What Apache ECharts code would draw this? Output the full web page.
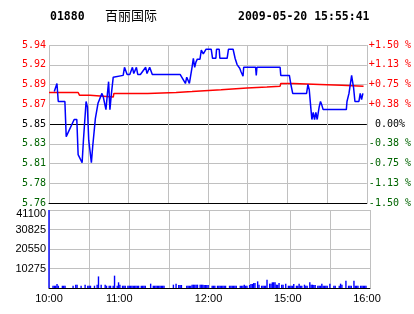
<!DOCTYPE html>
<html><head><meta charset="utf-8">
<script src="https://cdn.jsdelivr.net/npm/echarts@6/dist/echarts.min.js"></script>
<style>html,body{margin:0;padding:0;background:#fff}#c{width:414px;height:314px}</style>
</head><body><div id="c"></div>
<script>
const stockCode = '01880';
const stockName = '百丽国际';
const stamp = '2009-05-20 15:55:41';
const prevClose = 5.85;
const priceTickLabels = ['5.76','5.78','5.81','5.83','5.85','5.87','5.89','5.92','5.94'];
const pctTickLabels = ['-1.50 %','-1.13 %','-0.75 %','-0.38 %',' 0.00%','+0.38 %','+0.75 %','+1.13 %','+1.50 %'];
const timeTickLabels = ['10:00','','11:00','','12:00','','15:00','','16:00'];
const volTickLabels = ['','10275','20550','30825','41100'];

// [minute since 10:00 (trading minutes), price]
const priceData = [[4,5.886],[6,5.895],[7,5.875],[12,5.875],[13,5.836],[19,5.855],[21,5.855],[22,5.816],[25,5.807],[26,5.832],[28,5.875],[29,5.869],[30,5.832],[32,5.807],[33,5.825],[35,5.856],[37,5.873],[40,5.884],[41,5.880],[43,5.866],[44,5.882],[45,5.897],[46,5.866],[47,5.882],[48.5,5.902],[50,5.904],[56,5.904],[57,5.913],[59,5.905],[61,5.905],[63,5.913],[64,5.906],[66,5.913],[67,5.905],[69,5.905],[73,5.913],[74,5.906],[76,5.913],[78,5.905],[99,5.905],[101,5.900],[103,5.895],[104,5.902],[106,5.895],[107.5,5.895],[108,5.913],[109,5.923],[110,5.913],[111,5.919],[112,5.922],[114,5.922],[115,5.932],[116.5,5.928],[117.5,5.928],[118.5,5.933],[122.5,5.933],[123.5,5.923],[126,5.923],[126.5,5.933],[128.5,5.933],[129,5.923],[134.5,5.923],[135.5,5.933],[139,5.933],[140.5,5.923],[142,5.916],[144,5.912],[145,5.908],[146.5,5.903],[147,5.913],[156,5.913],[156.5,5.904],[157,5.913],[174.5,5.913],[175,5.904],[181.5,5.904],[182.5,5.895],[184,5.884],[194.5,5.884],[195.5,5.894],[196.5,5.888],[197.5,5.871],[198.5,5.855],[199.5,5.863],[200.5,5.855],[201.5,5.863],[202.5,5.855],[204,5.869],[205,5.875],[206,5.871],[207,5.866],[224.5,5.866],[225,5.875],[226.5,5.884],[227.5,5.894],[228.5,5.904],[229,5.899],[230,5.890],[231,5.875],[234,5.875],[235,5.884],[236,5.877],[237,5.884]];

// [minute, average price]
const avgData = [[0,5.885],[22,5.885],[23,5.882],[31,5.882],[31.5,5.880],[48.5,5.880],[49,5.884],[74.5,5.884],[75,5.885],[96,5.885],[96.5,5.886],[108,5.886],[108.5,5.888],[130,5.888],[130.5,5.890],[149.5,5.890],[150,5.891],[164.5,5.891],[165,5.892],[174.5,5.892],[175,5.895],[184.5,5.895],[185,5.894],[204.5,5.894],[205,5.893],[221,5.893],[221.5,5.892],[237.5,5.892]];

// [minute, volume]
const volumeData = [[0,41100],[3,1200],[4,1200],[5,1200],[6,2100],[7,1200],[10,1200],[11,1200],[12,1200],[18,1200],[20,1750],[21,1750],[24,1200],[27,1750],[29,1200],[30,1200],[31,1200],[34,1200],[36,1750],[37,6100],[39,1750],[42,1750],[43,1200],[45,1200],[46,1200],[48,1200],[49,6500],[51,1200],[52,3000],[53,1750],[55,1200],[56,1200],[57,1200],[59,1200],[60,1200],[61,1200],[62,1200],[63,1200],[64,1200],[65,1200],[66,1200],[67,1200],[69,1200],[70,1200],[71,1200],[72,1200],[76,2280],[78,1200],[79,1200],[80,1200],[81,1200],[82,1200],[83,1200],[84,1200],[85,1200],[86,1200],[93,1750],[95,2280],[97,1580],[98,1580],[99,1580],[103,1200],[104,1200],[105,1200],[106,1200],[107,1750],[108,1750],[109,1750],[110,1750],[111,1750],[113,1750],[114,1750],[115,1750],[116,1580],[117,1580],[118,1580],[119,1580],[122,1200],[123,1200],[124,1200],[126,1200],[127,1200],[128,1200],[129,1200],[130,1200],[131,1200],[132,1200],[135,1200],[136,1200],[137,1200],[138,1200],[139,1200],[140,1200],[143,1200],[144,1200],[145,1200],[146,1750],[147,1200],[148,1200],[150,1580],[151,2100],[152,2100],[153,2600],[154,2600],[156,3500],[157,1750],[159,1200],[160,1200],[161,1200],[162,1200],[163,4400],[165,2280],[166,2280],[167,3000],[168,3000],[169,3000],[170,1750],[171,1750],[172,2600],[174,1750],[175,1750],[177,2280],[179,1200],[180,1200],[181,1200],[182,1200],[183,2100],[185,1200],[186,1200],[187,2280],[188,1200],[189,1200],[191,1750],[192,1200],[193,1200],[195,3000],[196,1750],[197,1750],[198,1580],[199,1580],[201,1200],[202,1200],[203,1200],[204,2280],[205,1200],[206,1200],[207,1200],[208,1200],[210,2280],[213,1200],[214,1200],[217,1200],[218,2280],[219,1750],[222,3800],[224,1200],[225,1200],[226,1200],[228,3800],[229,1200],[230,1200],[231,1200],[233,1200],[234,1200],[235,1200],[236,1200],[237,1200]];

const pct = p => (p / prevClose - 1) * 100;
const tickIdx = v => Math.round((Number(v) + 1.5) / 0.375);
const upDownColor = v => { const n = Number(v); return Math.abs(n) < 1e-9 ? '#000000' : (n > 0 ? '#ff0000' : '#006400'); };
const GRID = '#c0c0c0';
const mono = 'DejaVu Sans Mono';
const sans = 'Liberation Sans';
const headStyle = {fontFamily: mono, fontWeight: 'bold', fontSize: 11.5, color: '#000', lineHeight: 14};

const chart = echarts.init(document.getElementById('c'), null, {renderer: 'canvas'});
chart.setOption({
  animation: false,
  backgroundColor: '#ffffff',
  title: [
    {text: stockCode, left: 50, top: 10, padding: 0, textStyle: headStyle},
    {text: stockName, left: 105, top: 7, padding: 0, textStyle: {fontFamily: 'Noto Sans CJK SC', fontWeight: 'normal', fontSize: 13, color: '#000', lineHeight: 16}},
    {text: stamp, left: 238, top: 10, padding: 0, textStyle: headStyle}
  ],
  grid: [
    {left: 49, top: 45, width: 321, height: 158},
    {left: 49, top: 210, width: 321, height: 78}
  ],
  xAxis: [
    {type: 'value', gridIndex: 0, min: 0, max: 240, interval: 30,
     axisLine: {show: true, onZero: false, lineStyle: {color: '#000', width: 1}},
     axisTick: {show: false}, axisLabel: {show: false},
     splitLine: {show: true, lineStyle: {color: GRID, width: 1}}},
    {type: 'value', gridIndex: 1, min: 0, max: 240, interval: 30,
     axisLine: {show: true, onZero: false, lineStyle: {color: '#000', width: 1}},
     axisTick: {show: false},
     axisLabel: {show: true, margin: 5, showMinLabel: true, showMaxLabel: true, hideOverlap: false,
       formatter: v => { const i = Math.round(v / 30); const t = timeTickLabels[i]; return t ? '{s' + i + '|' + t + '}' : ''; },
       rich: {
         s0: {fontFamily: sans, fontSize: 11, color: '#000'},
         s2: {fontFamily: sans, fontSize: 11, color: '#000', padding: [0, 20, 0, 0]},
         s4: {fontFamily: sans, fontSize: 11, color: '#000', padding: [0, 2, 0, 0]},
         s6: {fontFamily: sans, fontSize: 11, color: '#000', padding: [0, 4, 0, 0]},
         s8: {fontFamily: sans, fontSize: 11, color: '#000', padding: [0, 6, 0, 0]}
       }},
     splitLine: {show: true, lineStyle: {color: GRID, width: 1}}}
  ],
  yAxis: [
    {type: 'value', gridIndex: 0, min: -1.5, max: 1.5, interval: 0.375, position: 'left',
     axisLine: {show: false}, axisTick: {show: false},
     axisLabel: {margin: 3, fontFamily: mono, fontSize: 10, showMinLabel: true, showMaxLabel: true,
       formatter: v => priceTickLabels[tickIdx(v)], color: v => upDownColor(v)},
     splitLine: {show: true, lineStyle: {width: 1, color: ['#000', GRID, GRID, GRID, '#000', GRID, GRID, GRID, GRID]}}},
    {type: 'value', gridIndex: 0, min: -1.5, max: 1.5, interval: 0.375, position: 'right',
     axisLine: {show: false}, axisTick: {show: false}, splitLine: {show: false},
     axisLabel: {margin: 2, align: 'left', fontFamily: mono, fontSize: 10, showMinLabel: true, showMaxLabel: true,
       formatter: v => pctTickLabels[tickIdx(v)], color: v => upDownColor(v)}},
    {type: 'value', gridIndex: 1, min: 0, max: 41100, interval: 10275,
     axisLine: {show: false}, axisTick: {show: false},
     axisLabel: {margin: 3, fontFamily: sans, fontSize: 11, color: '#000', showMinLabel: true, showMaxLabel: true,
       formatter: v => { const i = Math.round(v / 10275); const t = volTickLabels[i]; return i === 4 ? '{t|' + t + '}' : t; },
       rich: {t: {fontFamily: sans, fontSize: 11, color: '#000', padding: [7, 0, 0, 0]}}},
     splitLine: {show: true, lineStyle: {color: GRID, width: 1}}}
  ],
  series: [
    {type: 'line', xAxisIndex: 0, yAxisIndex: 0, data: avgData.map(d => [d[0], pct(d[1])]),
     showSymbol: false, lineStyle: {color: '#ff0000', width: 1.5}, z: 3},
    {type: 'line', xAxisIndex: 0, yAxisIndex: 0, data: priceData.map(d => [d[0], pct(d[1])]),
     showSymbol: false, lineStyle: {color: '#0000ff', width: 1.5}, z: 4},
    {type: 'bar', xAxisIndex: 1, yAxisIndex: 2, data: volumeData, barWidth: 1.4,
     itemStyle: {color: '#0000ff'}, z: 3}
  ]
});
</script></body></html>
